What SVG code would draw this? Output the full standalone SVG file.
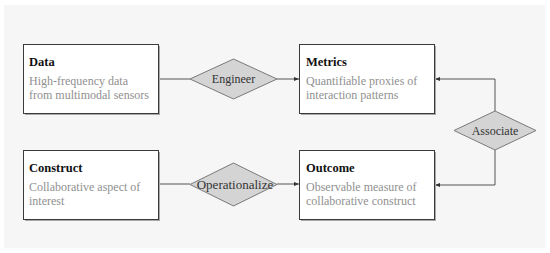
<svg xmlns="http://www.w3.org/2000/svg" width="550" height="253" viewBox="0 0 550 253">
<defs>
<style>
.bg{fill:#f6f6f6}
.box{fill:#fff;stroke:#3a3a3a;stroke-width:1}
.shadow{fill:#a8a8a8}
.dia{fill:#d4d4d4;stroke:#7a7a7a;stroke-width:1}
.t{font-family:"Liberation Serif","DejaVu Serif",serif;font-size:12.5px;font-weight:bold;fill:#111}
.d{font-family:"Liberation Serif","DejaVu Serif",serif;font-size:12px;fill:#909090}
.l{font-family:"Liberation Serif","DejaVu Serif",serif;font-size:12px;fill:#333;text-anchor:middle}
.c{fill:none;stroke:#555;stroke-width:1}
</style>
<marker id="ah" markerWidth="6" markerHeight="6" refX="5" refY="3" orient="auto" markerUnits="userSpaceOnUse">
<path d="M0,1 L5,3 L0,5 z" fill="#333"/>
</marker>
</defs>
<rect class="bg" x="4" y="5" width="541" height="243"/>
<g id="connectors">
<line class="c" x1="159" y1="79" x2="190" y2="79"/>
<line class="c" x1="277" y1="79" x2="299" y2="79" marker-end="url(#ah)"/>
<line class="c" x1="159" y1="184" x2="190" y2="184"/>
<line class="c" x1="277" y1="184" x2="299" y2="184" marker-end="url(#ah)"/>
<polyline class="c" points="495,111 495,79 435,79" marker-end="url(#ah)"/>
<polyline class="c" points="495,150 495,185 435,185" marker-end="url(#ah)"/>
</g>
<g id="data">
<rect class="shadow" x="25" y="46" width="135" height="69"/>
<rect class="box" x="23.5" y="44.5" width="135" height="69"/>
<text class="t" x="29" y="66">Data</text>
<text class="d" x="29" y="85">High-frequency data</text>
<text class="d" x="29" y="99">from multimodal sensors</text>
</g>
<g id="metrics">
<rect class="shadow" x="301" y="46" width="135" height="69"/>
<rect class="box" x="299.5" y="44.5" width="135" height="69"/>
<text class="t" x="306" y="66">Metrics</text>
<text class="d" x="306" y="85">Quantifiable proxies of</text>
<text class="d" x="306" y="99">interaction patterns</text>
</g>
<g id="construct">
<rect class="shadow" x="25" y="152" width="135" height="69"/>
<rect class="box" x="23.5" y="150.5" width="135" height="69"/>
<text class="t" x="29" y="172">Construct</text>
<text class="d" x="29" y="191">Collaborative aspect of</text>
<text class="d" x="29" y="205">interest</text>
</g>
<g id="outcome">
<rect class="shadow" x="301" y="152" width="135" height="69"/>
<rect class="box" x="299.5" y="150.5" width="135" height="69"/>
<text class="t" x="306" y="172">Outcome</text>
<text class="d" x="306" y="191">Observable measure of</text>
<text class="d" x="306" y="205">collaborative construct</text>
</g>
<g id="engineer">
<polygon class="dia" points="233.5,59 277,79 233.5,99 190,79"/>
<text class="l" x="233.5" y="83">Engineer</text>
</g>
<g id="operationalize">
<polygon class="dia" points="233.5,163 277,184.5 233.5,206 190,184.5"/>
<text class="l" x="235" y="189" style="font-size:13px">Operationalize</text>
</g>
<g id="associate">
<polygon class="dia" points="495,111 536,130.5 495,150 454,130.5"/>
<text class="l" x="495" y="134.5">Associate</text>
</g>
</svg>
